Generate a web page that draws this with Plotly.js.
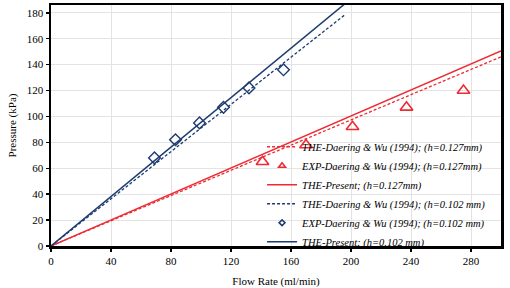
<!DOCTYPE html>
<html><head><meta charset="utf-8">
<script src="https://cdn.plot.ly/plotly-3.0.1.min.js"></script>
<style>body{margin:0;background:#fff}#c{width:510px;height:288px}</style>
</head><body><div id="c"></div>
<script>
// Theoretical lines (flow, pressure)
const redTheDaeringX = [0, 300];
const redTheDaeringY = [0, 146];
const redPresentX = [0, 300];
const redPresentY = [0, 150.5];
const blueTheDaeringX = [0, 196];
const blueTheDaeringY = [0, 178.5];
const bluePresentX = [0, 196];
const bluePresentY = [0, 187];
// Experimental points
const redExpX = [141, 170, 201, 237, 275];
const redExpY = [65, 78, 92, 107, 120];
const blueExpX = [69, 83, 99, 115, 132, 155];
const blueExpY = [68, 82, 95, 107, 122, 136];
const xTicks = [0, 40, 80, 120, 160, 200, 240, 280];
const yTicks = [0, 20, 40, 60, 80, 100, 120, 140, 160, 180];
const legendNames = [
  'THE-Daering &amp; Wu (1994); (h=0.127mm)',
  'EXP-Daering &amp; Wu (1994); (h=0.127mm)',
  'THE-Present; (h=0.127mm)',
  'THE-Daering &amp; Wu (1994); (h=0.102 mm)',
  'EXP-Daering &amp; Wu (1994); (h=0.102 mm)',
  'THE-Present; (h=0.102 mm)'
];

const RED = '#ee2a33', BLUE = '#1d3b6f';
const data = [
  {x: redTheDaeringX, y: redTheDaeringY, mode: 'lines', name: legendNames[0],
   line: {color: RED, width: 1.3, dash: '3px,2px'}},
  {x: redExpX, y: redExpY, mode: 'markers', name: legendNames[1], showlegend: false,
   marker: {symbol: 'triangle-up-open', size: 11, color: RED, line: {width: 1.6, color: RED}}},
  {x: [null], y: [null], mode: 'markers', name: legendNames[1],
   marker: {symbol: 'triangle-up-open', size: 6, color: RED, line: {width: 1.6, color: RED}}},
  {x: redPresentX, y: redPresentY, mode: 'lines', name: legendNames[2],
   line: {color: RED, width: 1.5}},
  {x: blueTheDaeringX, y: blueTheDaeringY, mode: 'lines', name: legendNames[3],
   line: {color: BLUE, width: 1.3, dash: '3px,2px'}},
  {x: blueExpX, y: blueExpY, mode: 'markers', name: legendNames[4], showlegend: false,
   marker: {symbol: 'diamond-open', size: 9, color: BLUE, line: {width: 1.4, color: BLUE}}},
  {x: [null], y: [null], mode: 'markers', name: legendNames[4],
   marker: {symbol: 'diamond-open', size: 4.5, color: BLUE, line: {width: 1.6, color: BLUE}}},
  {x: bluePresentX, y: bluePresentY, mode: 'lines', name: legendNames[5],
   line: {color: BLUE, width: 1.5}}
];
const axisCommon = {
  showline: true, linecolor: '#000', linewidth: 2.5, mirror: true,
  ticks: 'outside', ticklen: 3, tickwidth: 1.5, tickcolor: '#000',
  showgrid: true, gridcolor: '#e3e3e3', gridwidth: 1, zeroline: false,
  tickfont: {family: 'Liberation Serif', size: 11, color: '#000'}
};
const layout = {
  width: 510, height: 288,
  margin: {l: 51, r: 9, t: 5, b: 42},
  paper_bgcolor: '#fff', plot_bgcolor: '#fff',
  showlegend: true,
  legend: {x: 0.469, y: 0.472, xanchor: 'left', yanchor: 'top', bgcolor: 'rgba(0,0,0,0)',
    font: {family: 'Liberation Serif', size: 10.5, color: '#000', style: 'italic'},
    tracegroupgap: 0, itemwidth: 30},
  xaxis: Object.assign({}, axisCommon, {range: [0, 300], tickvals: xTicks,
    title: {text: 'Flow Rate (ml/min)', font: {family: 'Liberation Serif', size: 11, color: '#000'}, standoff: 16}}),
  yaxis: Object.assign({}, axisCommon, {range: [0, 186], tickvals: yTicks,
    title: {text: 'Pressure (kPa)', font: {family: 'Liberation Serif', size: 11, color: '#000'}, standoff: 8}})
};
Plotly.newPlot('c', data, layout, {displayModeBar: false, staticPlot: true});
</script></body></html>
